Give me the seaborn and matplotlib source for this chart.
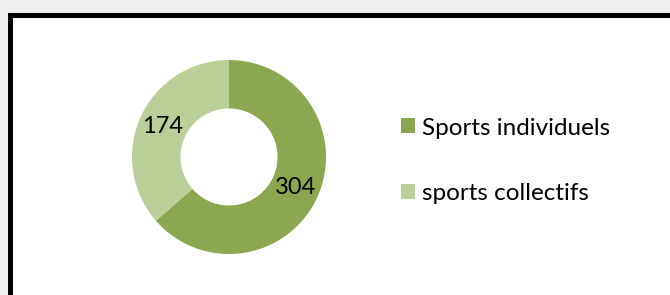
import matplotlib
matplotlib.use("Agg")
import matplotlib.pyplot as plt
import matplotlib.patches as mpatches
import seaborn as sns

sns.set_theme(style="white")
plt.rcParams["font.family"] = ["Lato", "DejaVu Sans"]
plt.rcParams["text.color"] = "black"

categories = ["Sports individuels", "sports collectifs"]
counts = [304, 174]
colors = ["#8BA850", "#BACF97"]

W, H = 670, 295
fig = plt.figure(figsize=(W / 100, H / 100), dpi=100, facecolor="#F0F0F0")

# white chart area with heavy black frame (open to the right/bottom)
frame = mpatches.Rectangle((9.5 / W, -0.1), 1.1, (H - 15) / H + 0.1,
                           transform=fig.transFigure, facecolor="white",
                           edgecolor="black", linewidth=3.6, clip_on=False,
                           zorder=-5)
fig.patches.append(frame)

cx, cy, r = 229, 157, 97
ax = fig.add_axes([(cx - r) / W, (H - cy - r) / H, 2 * r / W, 2 * r / H])
ax.set_facecolor("none")
ax.set_zorder(2)

total = sum(counts)
wedges, _, autotexts = ax.pie(
    counts, colors=colors, startangle=90, counterclock=False,
    wedgeprops=dict(width=0.5, linewidth=0),
    autopct=lambda p: f"{round(p * total / 100):d}", pctdistance=0.75,
    textprops=dict(fontsize=17, color="black"))
ax.set_xlim(-1, 1)
ax.set_ylim(-1, 1)
ax.set_aspect("equal")
ax.axis("off")

leg = fig.legend(wedges, categories, loc="center left",
                 bbox_to_anchor=(401 / W, (H - 161) / H), frameon=False,
                 fontsize=17.5, handlelength=0.58, handleheight=0.58,
                 handletextpad=0.3, labelspacing=1.85, borderpad=0, borderaxespad=0)
leg.set_zorder(3)

fig.savefig("out.png", dpi=100, facecolor=fig.get_facecolor())
